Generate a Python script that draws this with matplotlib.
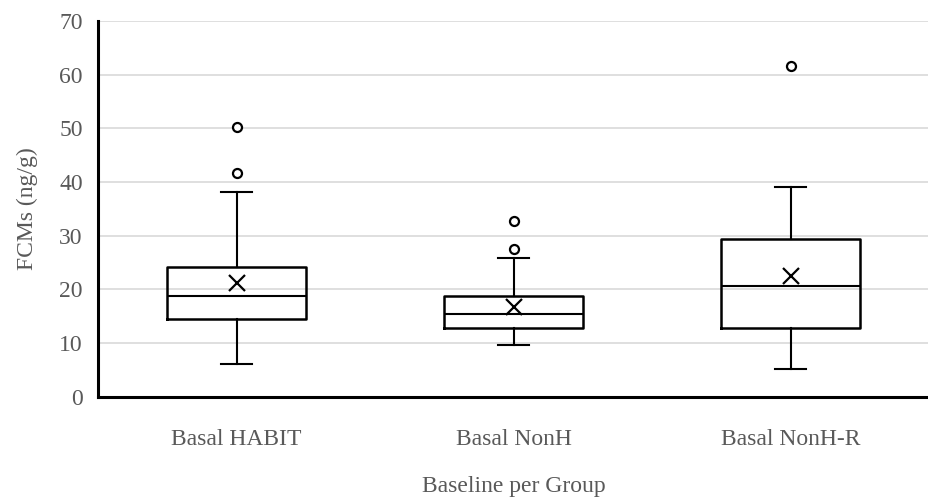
import matplotlib
matplotlib.use("Agg")
import matplotlib.pyplot as plt

categories = ["Basal HABIT", "Basal NonH", "Basal NonH-R"]
whisker_low = [6.1, 9.6, 5.1]
q1 = [14.5, 12.8, 12.8]
median = [18.8, 15.4, 20.7]
q3 = [24.1, 18.8, 29.4]
whisker_high = [38.1, 25.9, 39.0]
means = [21.2, 16.8, 22.4]
outliers = [[41.6, 50.2], [27.5, 32.7], [61.7]]
yticks = [0, 10, 20, 30, 40, 50, 60, 70]

plt.rcParams['font.family'] = ['Liberation Serif', 'DejaVu Serif']

fig = plt.figure(figsize=(9.29, 4.98), dpi=100)
ax = fig.add_axes([0.1055, 0.2034, 0.8945, 0.7544])

stats = []
for i, c in enumerate(categories):
    stats.append(dict(label=c, whislo=whisker_low[i], q1=q1[i], med=median[i],
                      q3=q3[i], whishi=whisker_high[i], mean=means[i], fliers=outliers[i]))

positions = list(range(len(categories)))
ax.bxp(stats, positions=positions, widths=0.504, showmeans=True, patch_artist=False,
       boxprops=dict(color='black', linewidth=1.8),
       medianprops=dict(color='black', linewidth=1.5),
       whiskerprops=dict(color='black', linewidth=1.5),
       capprops=dict(color='black', linewidth=1.5),
       capwidths=0.115,
       meanprops=dict(marker='x', markeredgecolor='black', markersize=12, markeredgewidth=1.6),
       flierprops=dict(marker='o', markerfacecolor='white', markeredgecolor='black',
                       markersize=6.5, markeredgewidth=1.6))

ax.set_xlim(-0.5, len(categories) - 0.5)
ax.set_ylim(0, 70)
ax.set_yticks(yticks)
ax.yaxis.grid(True, color='#dcdcdc', linewidth=1.3)
ax.set_axisbelow(True)
for s in ['top', 'right']:
    ax.spines[s].set_visible(False)
for s in ['left', 'bottom']:
    ax.spines[s].set_linewidth(2.2)
    ax.spines[s].set_color('black')
ax.tick_params(axis='both', length=0, labelsize=17, colors='#595959')
ax.tick_params(axis='y', pad=11)
ax.tick_params(axis='x', pad=23)
ax.set_xticks(positions)
ax.set_xticklabels(categories)
ax.set_ylabel("FCMs (ng/g)", fontsize=17, color='#595959', labelpad=15)
ax.set_xlabel("Baseline per Group", fontsize=17, color='#595959', labelpad=19)

fig.savefig("out.png", dpi=100)
